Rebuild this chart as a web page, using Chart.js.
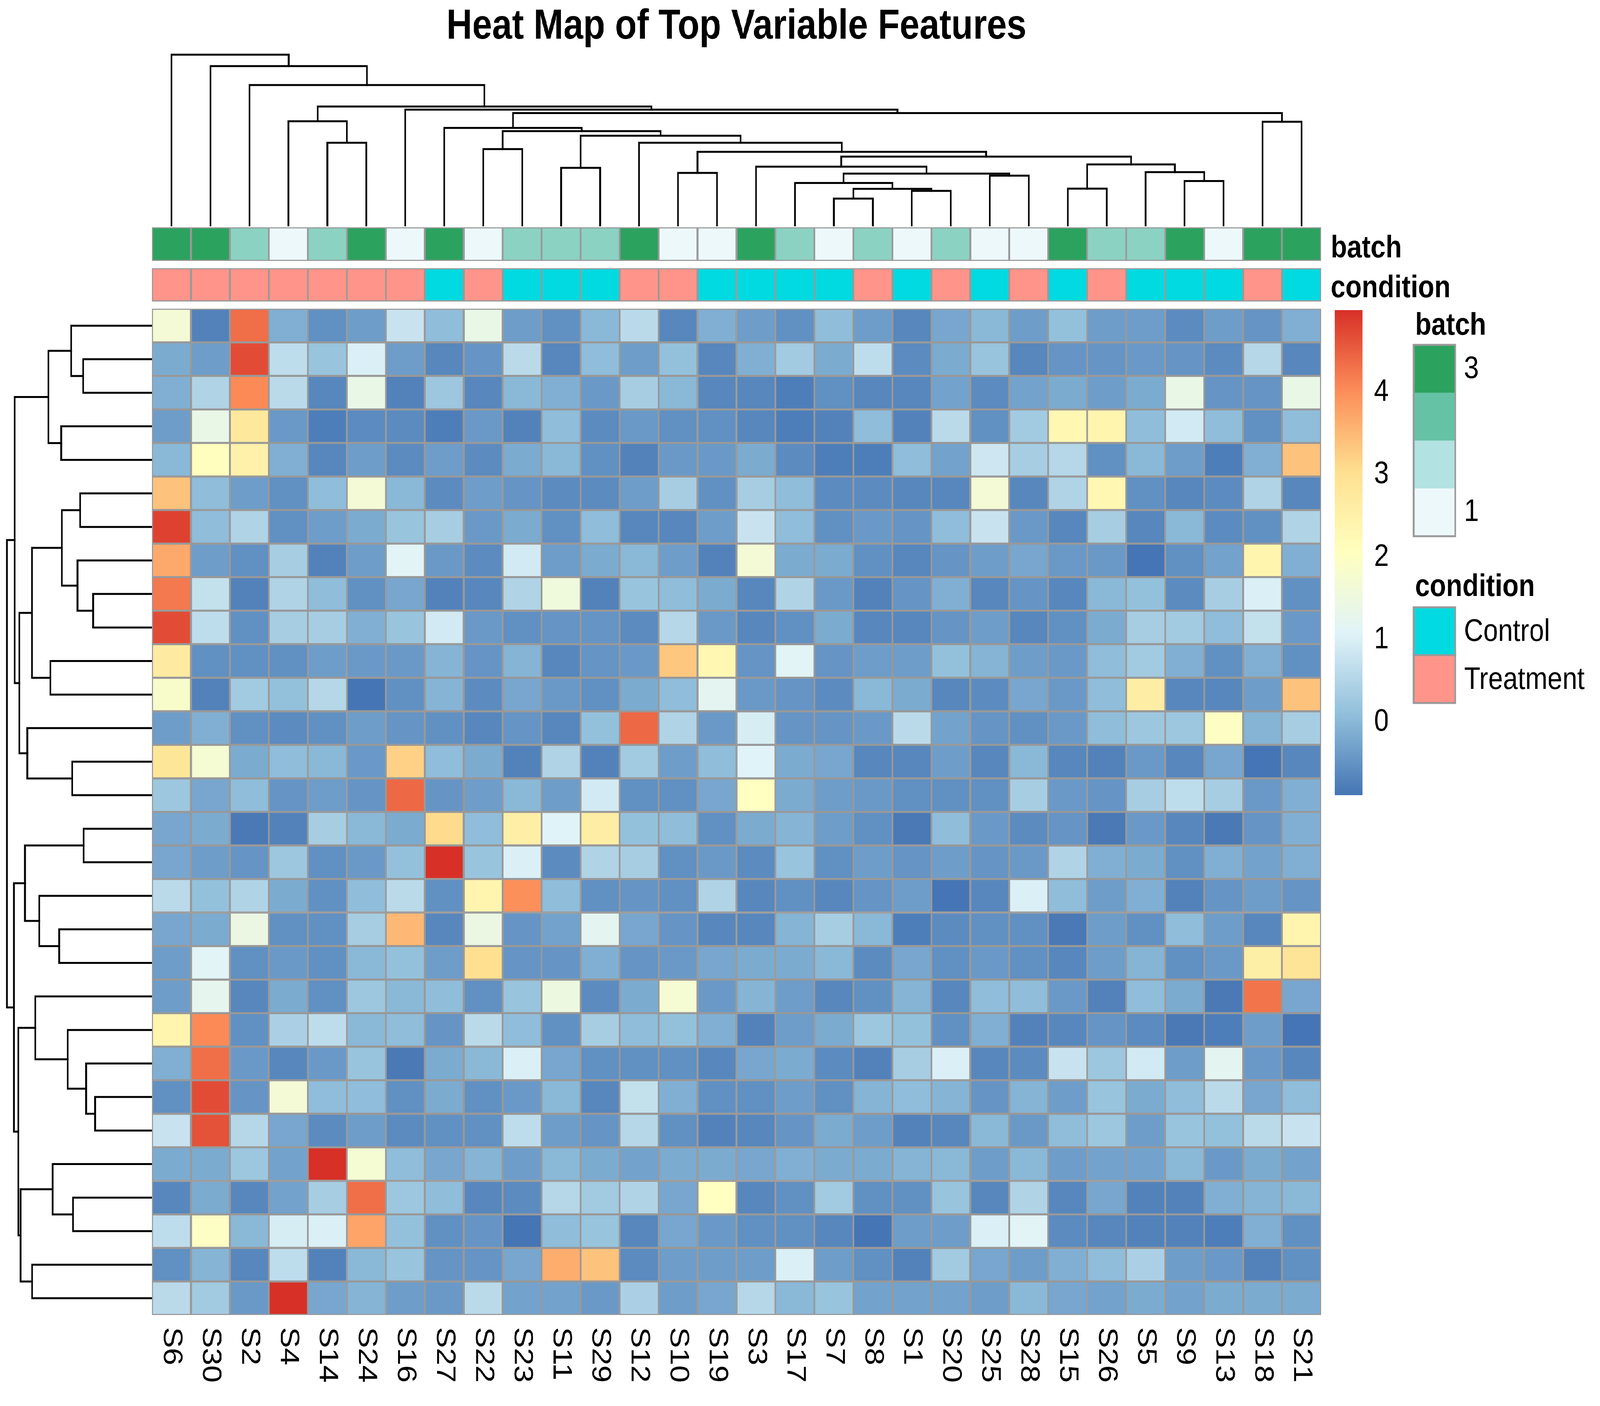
<!DOCTYPE html>
<html>
<head>
<meta charset="utf-8">
<title>Heat Map of Top Variable Features</title>
<script src="https://cdn.jsdelivr.net/npm/chart.js@4.4.1/dist/chart.umd.min.js"></script>
<style>
html, body { margin: 0; padding: 0; background: #ffffff; overflow: hidden; }
#wrap { position: absolute; left: 0; top: 0; width: 4800px; height: 3600px; overflow: hidden; background: #ffffff; transform-origin: 0 0; }
canvas { position: absolute; }
</style>
</head>
<body>
<div id="wrap">
  <canvas id="heat" width="4800" height="3600" style="left:0px;top:0px;width:4800px;height:3600px;"></canvas>
  <canvas id="dtop" width="3507" height="480" style="left:456px;top:100px;width:3507px;height:480px;"></canvas>
  <canvas id="dleft" width="456" height="2576" style="left:0px;top:791px;width:456px;height:2576px;"></canvas>
</div>
<script>
// fit the 4800x3600 design into whatever viewport the browser really gives
(function () {
  const w = window.innerWidth || 4800, h = window.innerHeight || 3600;
  document.getElementById('wrap').style.transform = 'scale(' + (w / 4800) + ',' + (h / 3600) + ')';
})();

// ---------------- DATA ----------------
const titleText = 'Heat Map of Top Variable Features';

const samples = ['S6','S30','S2','S4','S14','S24','S16','S27','S22','S23','S11','S29','S12','S10','S19',
                 'S3','S17','S7','S8','S1','S20','S25','S28','S15','S26','S5','S9','S13','S18','S21'];

const batch = [3,3,2,1,2,3,1,3,1,2,2,2,3,1,1,3,2,1,2,1,2,1,1,3,2,2,3,1,3,3];

const condition = ['Treatment','Treatment','Treatment','Treatment','Treatment','Treatment','Treatment','Control',
                   'Treatment','Control','Control','Control','Treatment','Treatment','Control','Control',
                   'Control','Control','Treatment','Control','Treatment','Control','Treatment','Control',
                   'Treatment','Control','Control','Control','Treatment','Control'];

// heat map values, one array per row (top to bottom), columns in sample order
const heatRows = [
 [1.7,-0.7,4.3,-0.1,-0.5,-0.3,0.8,0.1,1.4,-0.3,-0.5,0,0.6,-0.6,-0.1, -0.3,-0.5,0.1,-0.3,-0.6,-0.2,0,-0.35,0.15,-0.3,-0.35,-0.55,-0.35,-0.45,-0.1],
 [-0.15,-0.35,4.7,0.65,0.2,1.05,-0.3,-0.65,-0.45,0.6,-0.65,0.1,-0.35,0.15,-0.6, -0.1,0.3,-0.15,0.7,-0.55,-0.15,0.2,-0.6,-0.45,-0.45,-0.4,-0.45,-0.55,0.55,-0.6],
 [-0.1,0.5,4.05,0.6,-0.65,1.4,-0.7,0.25,-0.65,0,-0.1,-0.4,0.35,0,-0.65, -0.65,-0.75,-0.5,-0.6,-0.65,-0.25,-0.55,-0.25,-0.15,-0.3,-0.15,1.4,-0.45,-0.45,1.4],
 [-0.35,1.4,2.8,-0.4,-0.75,-0.55,-0.55,-0.75,-0.4,-0.7,0.1,-0.55,-0.4,-0.5,-0.5, -0.6,-0.75,-0.7,0.1,-0.7,0.6,-0.5,0.3,2.3,2.35,0.1,0.9,0.1,-0.5,0.1],
 [0,2.1,2.5,-0.1,-0.65,-0.3,-0.55,-0.35,-0.55,-0.15,0,-0.5,-0.7,-0.4,-0.4, -0.15,-0.55,-0.75,-0.75,0.1,-0.25,0.85,0.35,0.55,-0.5,0.05,-0.3,-0.75,-0.1,3.4],
 [3.4,0.1,-0.3,-0.5,0.1,1.7,0,-0.55,-0.3,-0.45,-0.55,-0.55,-0.3,0.4,-0.5, 0.4,0.1,-0.55,-0.55,-0.65,-0.65,1.7,-0.65,0.5,2.3,-0.5,-0.65,-0.55,0.5,-0.65],
 [4.8,0.1,0.5,-0.5,-0.35,-0.15,0.2,0.35,-0.4,-0.15,-0.5,0.1,-0.65,-0.65,-0.3, 0.8,0.1,-0.5,-0.4,-0.45,0.1,0.8,-0.4,-0.65,0.4,-0.65,0,-0.55,-0.5,0.5],
 [3.7,-0.35,-0.5,0.35,-0.7,-0.3,1.15,-0.4,-0.55,0.9,-0.3,-0.15,0,-0.3,-0.7, 1.7,-0.15,-0.15,-0.5,-0.65,-0.45,-0.3,-0.2,-0.4,-0.4,-0.85,-0.5,-0.25,2.35,-0.1],
 [4.2,0.75,-0.7,0.5,0.1,-0.5,-0.2,-0.7,-0.65,0.5,1.55,-0.7,0.2,0.1,-0.15, -0.65,0.5,-0.4,-0.7,-0.45,-0.1,-0.65,-0.45,-0.65,0,0.15,-0.55,0.4,1.05,-0.5],
 [4.65,0.65,-0.5,0.35,0.4,-0.1,0.2,0.9,-0.4,-0.5,-0.45,-0.45,-0.55,0.55,-0.4, -0.6,-0.5,-0.15,-0.6,-0.6,-0.45,-0.35,-0.65,-0.5,-0.15,0.4,0.3,0.1,0.75,-0.4],
 [2.7,-0.5,-0.5,-0.5,-0.3,-0.4,-0.4,-0.05,-0.45,-0.05,-0.65,-0.45,-0.4,3.3,2.3, -0.45,1.15,-0.45,-0.3,-0.35,0.15,-0.05,-0.35,-0.4,0.1,0.3,-0.1,-0.5,-0.1,-0.5],
 [1.85,-0.7,0.3,0.15,0.55,-0.85,-0.5,-0.05,-0.55,-0.2,-0.4,-0.5,-0.15,0.1,1.2, -0.4,-0.45,-0.55,0,-0.15,-0.65,-0.55,-0.2,-0.4,0.1,2.6,-0.6,-0.65,-0.3,3.4],
 [-0.3,-0.1,-0.5,-0.55,-0.5,-0.3,-0.45,-0.5,-0.6,-0.45,-0.6,0.15,4.4,0.5,-0.4, 0.95,-0.45,-0.45,-0.4,0.6,-0.25,-0.45,-0.5,-0.4,0.1,0.25,0.25,1.95,-0.05,0.4],
 [2.85,1.75,-0.15,0.1,0.05,-0.4,3.2,0.1,-0.15,-0.7,0.5,-0.7,0.3,-0.3,0.1, 1.1,-0.15,-0.2,-0.6,-0.6,-0.3,-0.6,0.05,-0.6,-0.7,-0.4,-0.65,-0.2,-0.85,-0.65],
 [0.25,-0.2,0.1,-0.45,-0.35,-0.45,4.4,-0.45,-0.3,0,-0.3,0.9,-0.5,-0.5,-0.2, 2.05,-0.15,-0.35,-0.4,-0.5,-0.5,-0.5,0.4,-0.4,-0.45,0.4,0.7,0.4,-0.4,-0.1],
 [-0.2,-0.15,-0.8,-0.7,0.35,0,-0.15,3.1,0.1,2.55,1.1,2.6,0.15,0.1,-0.5, -0.15,-0.05,-0.3,-0.5,-0.8,0.1,-0.4,-0.55,-0.45,-0.8,-0.4,-0.6,-0.8,-0.45,-0.1],
 [-0.2,-0.3,-0.45,0.25,-0.5,-0.4,0.15,4.95,0.2,1.05,-0.55,0.5,0.4,-0.5,-0.4, -0.55,0.2,-0.5,-0.3,-0.45,-0.3,-0.45,-0.4,0.5,-0.1,-0.15,-0.5,-0.1,-0.25,-0.1],
 [0.6,0.15,0.5,-0.15,-0.5,0.1,0.6,-0.5,2.35,3.95,0.1,-0.5,-0.45,-0.5,0.5, -0.6,-0.5,-0.6,-0.45,-0.35,-0.85,-0.65,1.05,0.1,-0.35,-0.1,-0.7,-0.45,-0.3,-0.45],
 [-0.2,-0.15,1.45,-0.5,-0.5,0.4,3.5,-0.65,1.45,-0.45,-0.25,1.2,-0.2,-0.45,-0.6, -0.6,-0.05,0.4,0,-0.75,-0.55,-0.5,-0.5,-0.8,-0.35,-0.5,0.1,-0.3,-0.65,2.35],
 [-0.3,1.15,-0.5,-0.4,-0.5,0,0.15,-0.3,3.0,-0.45,-0.45,-0.1,-0.45,-0.4,-0.2, -0.15,-0.15,0.05,-0.55,-0.2,-0.5,-0.4,-0.5,-0.6,-0.3,-0.05,-0.5,-0.4,2.55,2.9],
 [-0.3,1.25,-0.65,-0.15,-0.5,0.25,0,0.1,-0.5,0.2,1.5,-0.55,-0.15,1.75,-0.4, -0.05,-0.35,-0.6,-0.5,-0.05,-0.65,0.1,0.1,-0.4,-0.7,0.1,-0.15,-0.8,4.25,-0.2],
 [2.35,4.0,-0.5,0.45,0.7,0,0.1,-0.45,0.6,0.1,-0.5,0.35,0.1,0.15,-0.1, -0.7,-0.35,-0.15,0.25,0.15,-0.5,-0.1,-0.7,-0.65,-0.45,-0.55,-0.8,-0.75,-0.3,-0.9],
 [-0.1,4.3,-0.4,-0.6,-0.4,0.2,-0.8,-0.15,0,1.0,-0.2,-0.5,-0.5,-0.5,-0.65, -0.2,-0.15,-0.55,-0.7,0.35,1.0,-0.6,-0.55,0.8,0.25,0.9,-0.35,1.2,-0.4,-0.65],
 [-0.5,4.7,-0.45,1.7,0.1,0.1,-0.5,-0.15,-0.5,-0.4,0,-0.65,0.75,-0.1,-0.5, -0.5,-0.35,-0.5,-0.05,0.1,-0.05,-0.45,-0.05,-0.35,0.2,-0.15,0.1,0.6,-0.2,0.1],
 [0.8,4.6,0.55,-0.2,-0.55,-0.3,-0.55,-0.5,-0.5,0.7,-0.3,-0.45,0.55,-0.5,-0.7, -0.65,-0.45,-0.15,-0.3,-0.7,-0.6,0,-0.4,0.1,0.25,-0.3,0.2,0.15,0.6,0.8],
 [-0.15,-0.15,0.25,-0.25,4.95,1.75,0.1,-0.2,-0.05,-0.3,0,-0.15,-0.25,-0.15,-0.15, -0.2,-0.1,-0.15,-0.15,-0.05,0.05,-0.3,0.05,-0.3,-0.25,-0.25,0,-0.4,-0.15,-0.25],
 [-0.6,-0.15,-0.65,-0.25,0.35,4.3,0.25,0.1,-0.6,-0.55,0.55,0.3,0.5,-0.2,2.0, -0.65,-0.5,0.3,-0.5,-0.5,0.2,-0.65,0.5,-0.65,-0.2,-0.7,-0.7,-0.1,-0.05,0.05],
 [0.7,1.95,0.05,0.95,1.05,3.75,0.15,-0.5,-0.45,-0.85,0.1,0.2,-0.65,-0.2,-0.4, -0.5,-0.5,-0.65,-0.85,-0.35,-0.35,1.05,1.15,-0.55,-0.65,-0.7,-0.7,-0.75,-0.1,-0.5],
 [-0.5,-0.05,-0.6,0.7,-0.7,0,0.2,-0.45,-0.45,-0.2,3.6,3.35,-0.55,-0.3,-0.35, -0.3,1.0,-0.3,-0.5,-0.7,0.3,-0.2,-0.35,-0.1,0.1,0.45,-0.35,-0.4,-0.7,-0.5],
 [0.6,0.3,-0.4,4.95,-0.2,-0.05,-0.3,-0.4,0.6,-0.25,-0.25,-0.4,0.45,-0.35,-0.2, 0.55,0,0.2,-0.25,-0.25,-0.25,-0.3,0.05,-0.2,-0.25,-0.15,-0.25,-0.15,-0.15,-0.15]
];

// column dendrogram (hclust-style merges: negative = leaf position (1-based), positive = earlier merge)
const colMergeA = [-18,-20,1,-17,-22,4,-16,-24,-27,-26,8,7,-14,13,-13,-11,16,-9,18,-8,-29,20,-7,-5,-4,25,-3,-2,-1];
const colMergeB = [-19,-21,2,3,-23,5,6,-25,-28,9,10,11,-15,12,14,-12,15,-10,17,19,-30,21,22,-6,24,23,26,27,28];
const colMergeH = [1.57,2.02,2.14,2.48,2.91,3.03,3.44,2.15,2.60,3.12,3.57,4.03,3.07,4.31,4.84,3.37,5.25,4.47,5.52,5.71,6.07,6.58,6.78,4.84,6.10,6.96,8.22,9.33,10.0];

// row dendrogram
const rowMergeA = [-2,-1,-4,2,-6,-9,-8,5,-11,8,-14,-13,10,4,-16,-19,-18,15,-24,-23,-22,-21,-27,-26,-29,24,22,18,14];
const rowMergeB = [-3,1,-5,3,-7,-10,6,7,-12,9,-15,11,12,13,-17,-20,16,17,-25,19,20,21,-28,23,-30,25,26,27,28];
const rowMergeH = [4.75,5.57,6.26,7.14,4.95,4.06,5.14,6.21,7.0,8.27,5.51,8.6,9.15,9.47,4.72,6.4,7.77,8.76,3.92,4.54,5.82,8.05,5.44,6.85,8.26,9.06,9.21,9.52,10.0];

// colour scale
const colorMin = -0.886;
const colorMax = 4.995;
const legendTicks = [0, 1, 2, 3, 4];
const paletteStops = ['#4575B4','#91BFDB','#E0F3F8','#FFFFBF','#FEE090','#FC8D59','#D73027'];

const batchLegendColors = ['#2CA25F','#66C2A4','#B2E2E2','#EDF8FB']; // high -> low
const batchLegendLabels = ['3', '1'];
const batchRange = [1, 3];
const conditionLevels = ['Control', 'Treatment'];
const conditionColors = ['#00DAE0', '#FF948A'];
const annotationNames = ['batch', 'condition'];

// ---------------- helpers ----------------
function hexToRgb(h) { const n = parseInt(h.slice(1), 16); return [(n >> 16) & 255, (n >> 8) & 255, n & 255]; }
function rgbToHex(c) { return '#' + c.map(v => Math.round(v).toString(16).padStart(2, '0')).join(''); }
function rampColor(stops, t) {
  t = Math.max(0, Math.min(1, t));
  const s = t * (stops.length - 1);
  const i = Math.min(stops.length - 2, Math.floor(s));
  const f = s - i;
  const a = hexToRgb(stops[i]), b = hexToRgb(stops[i + 1]);
  return rgbToHex(a.map((v, k) => v + (b[k] - v) * f));
}
function heatColor(v) {
  const t = (v - colorMin) / (colorMax - colorMin);
  const idx = Math.max(0, Math.min(99, Math.floor(t * 100)));
  return rampColor(paletteStops, idx / 99);
}
function batchColor(b) {
  const lowToHigh = batchLegendColors.slice().reverse();
  return rampColor(lowToHigh, (b - batchRange[0]) / (batchRange[1] - batchRange[0]));
}
function conditionColor(c) { return conditionColors[conditionLevels.indexOf(c)]; }

function dendroSegments(A, B, H) {
  const pos = [];
  const node = id => id < 0 ? { p: -id - 1, h: 0 } : { p: pos[id - 1], h: H[id - 1] };
  const segs = [];
  for (let k = 0; k < A.length; k++) {
    const a = node(A[k]), b = node(B[k]);
    pos.push((a.p + b.p) / 2);
    segs.push([[a.p, a.h], [a.p, H[k]], [b.p, H[k]], [b.p, b.h]]);
  }
  return segs;
}

const FONT = '"Liberation Sans", Arial, Helvetica, sans-serif';
const GRID = '#999999';

// ---------------- heat map chart ----------------
const rowCount = heatRows.length;
const condBand = [-1.21, -0.22];
const batchBand = [-2.43, -1.43];

function bandStyle(colors) {
  return {
    backgroundColor: colors,
    borderColor: GRID,
    borderWidth: 3,
    borderSkipped: false,
    grouped: false,
    barPercentage: 1,
    categoryPercentage: 1
  };
}

const heatDatasets = heatRows.map((row, r) => Object.assign({ data: row.map(() => [r, r + 1]) }, bandStyle(row.map(heatColor))));
heatDatasets.push(Object.assign({ data: condition.map(() => condBand) }, bandStyle(condition.map(conditionColor))));
heatDatasets.push(Object.assign({ data: batch.map(() => batchBand) }, bandStyle(batch.map(batchColor))));

const textPlugin = {
  id: 'heatTexts',
  afterDraw(chart) {
    const ctx = chart.ctx, xs = chart.scales.x, ys = chart.scales.y, area = chart.chartArea;
    ctx.save();
    ctx.fillStyle = '#000000';

    // title
    ctx.font = 'bold 107px ' + FONT;
    ctx.textAlign = 'center';
    ctx.textBaseline = 'alphabetic';
    ctx.fillText(titleText, (area.left + area.right) / 2, 99);

    // column labels (rotated 270 deg as in pheatmap)
    ctx.font = '80px ' + FONT;
    ctx.textAlign = 'left';
    ctx.textBaseline = 'middle';
    samples.forEach((s, i) => {
      const x = xs.getPixelForValue(i);
      ctx.save();
      ctx.translate(x, area.bottom + 31);
      ctx.rotate(Math.PI / 2);
      ctx.fillText(s, 0, 0);
      ctx.restore();
    });

    // annotation track names
    ctx.font = 'bold 80px ' + FONT;
    ctx.textAlign = 'left';
    ctx.textBaseline = 'alphabetic';
    ctx.fillText(annotationNames[0], area.right + 29, ys.getPixelForValue((batchBand[0] + batchBand[1]) / 2) + 34);
    ctx.fillText(annotationNames[1], area.right + 29, ys.getPixelForValue((condBand[0] + condBand[1]) / 2) + 32);

    // colour bar legend
    const cbL = 4004, cbR = 4088, cbT = 794, cbB = 2036;
    const grad = ctx.createLinearGradient(0, cbB, 0, cbT);
    paletteStops.forEach((c, i) => grad.addColorStop(i / (paletteStops.length - 1), c));
    ctx.fillStyle = grad;
    ctx.fillRect(cbL, cbT, cbR - cbL, cbB - cbT);
    ctx.fillStyle = '#000000';
    ctx.font = '80px ' + FONT;
    ctx.textBaseline = 'middle';
    legendTicks.forEach(v => {
      const y = cbB - (v - colorMin) / (colorMax - colorMin) * (cbB - cbT);
      ctx.fillText(String(v), 4122, y);
    });

    // batch legend
    const bx = 4241, bw = 125, by = 883, bh = 490;
    ctx.font = 'bold 80px ' + FONT;
    ctx.textBaseline = 'alphabetic';
    ctx.fillText(annotationNames[0], 4245, 857);
    batchLegendColors.forEach((c, i) => {
      ctx.fillStyle = c;
      ctx.fillRect(bx, by + i * bh / 4, bw, bh / 4 + 0.5);
    });
    ctx.strokeStyle = GRID;
    ctx.lineWidth = 5;
    ctx.strokeRect(bx, by, bw, bh);
    ctx.fillStyle = '#000000';
    ctx.font = '80px ' + FONT;
    ctx.textBaseline = 'middle';
    ctx.fillText(batchLegendLabels[0], 4392, 946);
    ctx.fillText(batchLegendLabels[1], 4392, 1312);

    // condition legend
    ctx.font = 'bold 80px ' + FONT;
    ctx.textBaseline = 'alphabetic';
    ctx.fillText(annotationNames[1], 4245, 1526);
    const cy = 1555, ch = 122.5;
    conditionLevels.forEach((lv, i) => {
      ctx.fillStyle = conditionColors[i];
      ctx.fillRect(bx, cy + i * ch, bw, ch);
      ctx.strokeStyle = GRID;
      ctx.lineWidth = 5;
      ctx.strokeRect(bx, cy + i * ch, bw, ch);
      ctx.fillStyle = '#000000';
      ctx.font = '80px ' + FONT;
      ctx.textBaseline = 'middle';
      ctx.fillText(lv, 4392, cy + i * ch + ch / 2 + 3);
    });
    ctx.restore();
  }
};

new Chart(document.getElementById('heat'), {
  type: 'bar',
  data: { labels: samples, datasets: heatDatasets },
  options: {
    responsive: false,
    devicePixelRatio: 1,
    animation: false,
    events: [],
    layout: { padding: { left: 456, right: 4800 - 3963, top: 582, bottom: 3600 - 3367 } },
    scales: {
      x: { type: 'category', display: false, offset: true, grid: { display: false } },
      y: { type: 'linear', display: false, min: batchBand[0], max: rowCount, reverse: true, grid: { display: false } }
    },
    plugins: { legend: { display: false }, tooltip: { enabled: false }, title: { display: false } }
  },
  plugins: [textPlugin]
});

// ---------------- dendrograms ----------------
function lineDataset(points) {
  return {
    data: points,
    showLine: true,
    borderColor: '#000000',
    borderWidth: 5,
    pointRadius: 0,
    fill: false,
    tension: 0,
    clip: false,
    borderJoinStyle: 'miter',
    borderCapStyle: 'square'
  };
}

const topSegs = dendroSegments(colMergeA, colMergeB, colMergeH);
new Chart(document.getElementById('dtop'), {
  type: 'scatter',
  data: { datasets: topSegs.map(s => lineDataset(s.map(p => ({ x: p[0], y: p[1] })))) },
  options: {
    responsive: false, devicePixelRatio: 1, animation: false, events: [],
    layout: { padding: { left: 0, right: 0, top: 40, bottom: 3 } },
    scales: {
      x: { type: 'linear', display: false, min: -0.5, max: samples.length - 0.5 },
      y: { type: 'linear', display: false, min: 0, max: Math.max(...colMergeH) }
    },
    plugins: { legend: { display: false }, tooltip: { enabled: false } }
  }
});

const leftSegs = dendroSegments(rowMergeA, rowMergeB, rowMergeH);
new Chart(document.getElementById('dleft'), {
  type: 'scatter',
  data: { datasets: leftSegs.map(s => lineDataset(s.map(p => ({ x: p[1], y: p[0] })))) },
  options: {
    responsive: false, devicePixelRatio: 1, animation: false, events: [],
    layout: { padding: { left: 21, right: 0, top: 0, bottom: 0 } },
    scales: {
      x: { type: 'linear', display: false, min: 0, max: Math.max(...rowMergeH), reverse: true },
      y: { type: 'linear', display: false, min: -0.5, max: rowCount - 0.5, reverse: true }
    },
    plugins: { legend: { display: false }, tooltip: { enabled: false } }
  }
});
</script>
</body>
</html>
